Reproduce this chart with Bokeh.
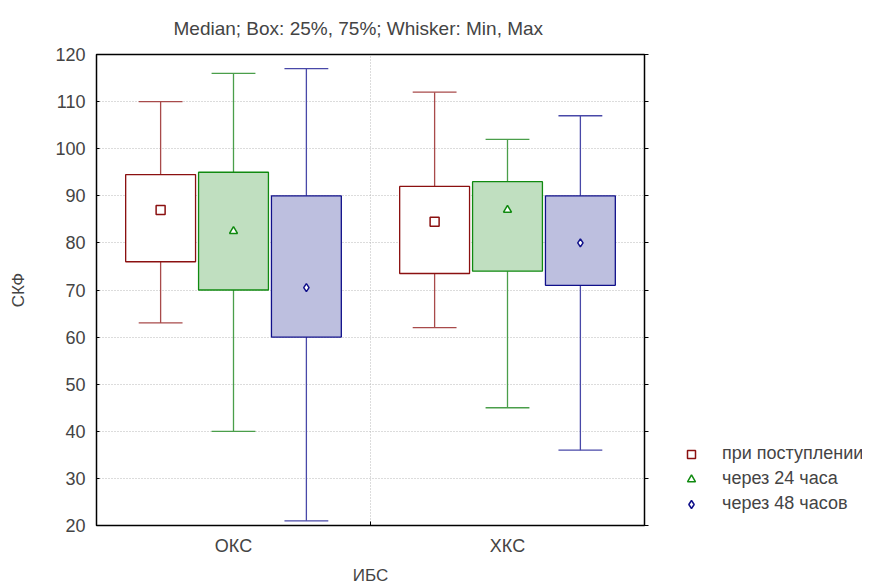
from bokeh.plotting import figure
from bokeh.layouts import row
from bokeh.models import (ColumnDataSource, Range1d, FixedTicker, LinearAxis, Grid,
                          Legend, LegendItem)
from bokeh.embed import file_html
from bokeh.resources import INLINE

groups = ["ОКС", "ХКС"]
series = ["при поступлении", "через 24 часа", "через 48 часов"]
# per series: values for [ОКС, ХКС]
medians = [[87, 84.5], [82.5, 87], [70.5, 80]]
q1 = [[76, 73.5], [70, 74], [60, 71]]
q3 = [[94.5, 92], [95, 93], [90, 90]]
mins = [[63, 62], [40, 45], [21, 36]]
maxs = [[110, 112], [116, 102], [117, 107]]
yticks = [20, 30, 40, 50, 60, 70, 80, 90, 100, 110, 120]

FONT = "Liberation Sans"
FS = "18px"
FL = "17px"
outline_cols = ["#8b1010", "#108a10", "#10108a"]
whisk_cols = ["#a84a4a", "#4a9e4a", "#4848a8"]
fill_cols = ["#ffffff", "#c0dfc0", "#bdbfdf"]
markers = ["square", "triangle", "diamond"]
msizes = [9, 8, 8]
offsets = [-0.266, 0.0, 0.266]
box_w = 0.255
cap_w = 0.16

p = figure(width=660, height=576, output_backend="svg", toolbar_location=None,
           x_range=Range1d(0, 2), y_range=Range1d(20, 120),
           x_axis_type=None, y_axis_type=None,
           min_border_left=96, min_border_right=16, min_border_top=54, min_border_bottom=51,
           frame_width=548, frame_height=471)
p.outline_line_color = "black"
p.outline_line_width = 1.5
p.background_fill_color = "white"
p.border_fill_color = "white"

# title
p.title.text = "Median; Box: 25%, 75%; Whisker: Min, Max"
p.title.text_font = FONT
p.title.text_font_size = "19px"
p.title.text_font_style = "normal"
p.title.align = "left"
p.title.offset = 77
p.title.standoff = 31

# axes
yax = LinearAxis(ticker=FixedTicker(ticks=yticks))
yax.axis_label = "СКФ"
yax.axis_label_text_font = FONT
yax.axis_label_text_font_size = FL
yax.axis_label_text_font_style = "normal"
yax.axis_label_standoff = 24
yax.major_label_text_font = FONT
yax.major_label_text_font_size = FS
yax.major_label_standoff = 11
yax.major_tick_in = 3
yax.major_tick_out = 0
yax.minor_tick_line_color = None
yax.axis_line_color = "black"
p.add_layout(yax, "left")

rax = LinearAxis(ticker=FixedTicker(ticks=yticks))
rax.major_label_text_font_size = "0px"
rax.major_label_standoff = 0
rax.major_tick_in = 0
rax.major_tick_out = 4
rax.minor_tick_line_color = None
p.add_layout(rax, "right")

xax = LinearAxis(ticker=FixedTicker(ticks=[0.5, 1.5], minor_ticks=[1.0]))
xax.major_label_overrides = {0.5: groups[0], 1.5: groups[1]}
xax.major_label_text_font = FONT
xax.major_label_text_font_size = FS
xax.major_label_standoff = 10
xax.major_tick_in = 0
xax.major_tick_out = 0
xax.minor_tick_in = 4
xax.minor_tick_out = 0
xax.axis_label = "ИБС"
xax.axis_label_text_font = FONT
xax.axis_label_text_font_size = FL
xax.axis_label_text_font_style = "normal"
xax.axis_label_standoff = 7
p.add_layout(xax, "below")

ygrid = Grid(dimension=1, ticker=FixedTicker(ticks=yticks[1:-1]),
             grid_line_color="#b8b8b8", grid_line_dash="1 2", grid_line_width=1)
p.add_layout(ygrid)
xgrid = Grid(dimension=0, ticker=FixedTicker(ticks=[1.0]),
             grid_line_color="#b8b8b8", grid_line_dash="1 2", grid_line_width=1)
p.add_layout(xgrid)

# legend panel (separate figure so the legend is not clipped by the main frame);
# its ranges lie outside the data, so its renderers only feed the legend glyphs
lf = figure(width=202, height=576, output_backend="svg", toolbar_location=None,
            x_range=Range1d(100, 101), y_range=Range1d(1000, 1001),
            x_axis_type=None, y_axis_type=None, min_border=0)
lf.outline_line_color = None
lf.background_fill_color = "white"
lf.border_fill_color = "white"

legend_items = []
for i, name in enumerate(series):
    xs = [g + 0.5 + offsets[i] for g in range(len(groups))]
    src = ColumnDataSource(dict(
        x=xs,
        left=[x - box_w / 2 for x in xs], right=[x + box_w / 2 for x in xs],
        capl=[x - cap_w / 2 for x in xs], capr=[x + cap_w / 2 for x in xs],
        med=medians[i], q1=q1[i], q3=q3[i], lo=mins[i], hi=maxs[i]))
    p.segment(x0="x", x1="x", y0="lo", y1="q1", source=src, line_color=whisk_cols[i], line_width=1.3)
    p.segment(x0="x", x1="x", y0="q3", y1="hi", source=src, line_color=whisk_cols[i], line_width=1.3)
    p.segment(x0="capl", x1="capr", y0="lo", y1="lo", source=src, line_color=whisk_cols[i], line_width=1.3)
    p.segment(x0="capl", x1="capr", y0="hi", y1="hi", source=src, line_color=whisk_cols[i], line_width=1.3)
    p.quad(left="left", right="right", bottom="q1", top="q3", source=src,
           fill_color=fill_cols[i], line_color=outline_cols[i], line_width=1.3)
    p.scatter(x="x", y="med", source=src, marker=markers[i], size=msizes[i],
              fill_color="white", line_color=outline_cols[i], line_width=1.5)
    lr = lf.scatter(x="x", y="med", source=src, marker=markers[i], size=msizes[i],
                    fill_color="white", line_color=outline_cols[i], line_width=1.5)
    legend_items.append(LegendItem(label=name, renderers=[lr]))

legend = Legend(items=legend_items, location=(21, 0),
                label_text_font=FONT, label_text_font_size=FS,
                border_line_color=None, background_fill_alpha=0,
                glyph_width=20, glyph_height=20, label_height=20,
                spacing=4, padding=0, margin=0, label_standoff=21)
lf.add_layout(legend, "center")

layout = row(p, lf, spacing=0)
open("out.html", "w").write(file_html(layout, INLINE))
